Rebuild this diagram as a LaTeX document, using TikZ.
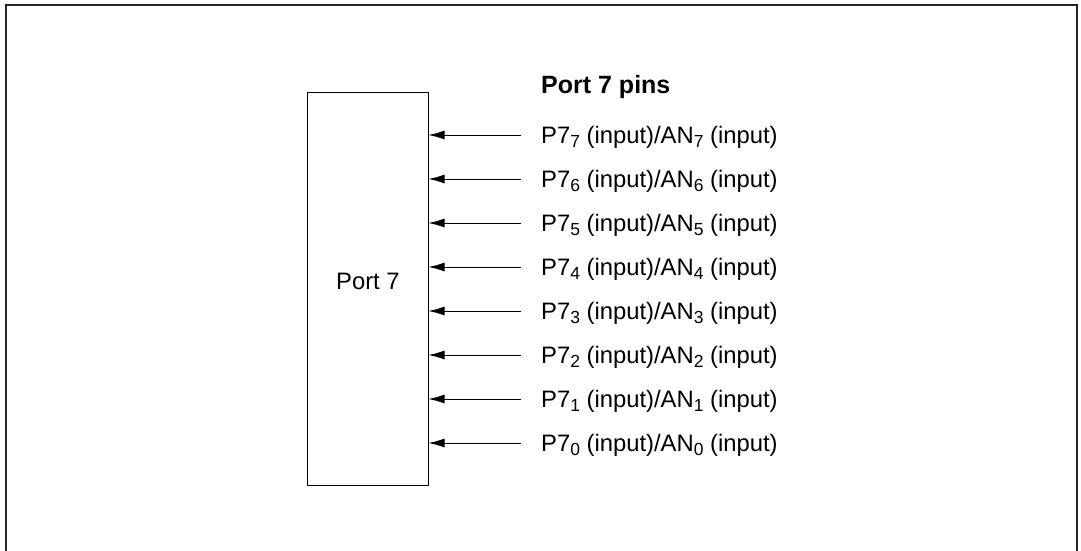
\documentclass[tikz,border=0pt]{standalone}
\usepackage{fontspec}
\setmainfont{Liberation Sans}
\usetikzlibrary{arrows.meta}
\newcommand\psub[1]{\raisebox{-4.5pt}{\fontsize{17.5}{17.5}\selectfont #1}}
\tikzset{
  frame/.style={draw=black!85, line width=2pt},
  portbox/.style={draw, line width=1pt, minimum width=121pt, minimum height=393pt, inner sep=0pt},
  pinlabel/.style={anchor=base west, inner sep=0pt, font=\fontsize{23.8}{28}\selectfont},
  pinarrow/.style={line width=1pt, -{Latex[length=16pt,width=9pt]}},
}
\begin{document}
\begin{tikzpicture}[x=1pt,y=-1pt]
\useasboundingbox (0,0) rectangle (1081,550);
\coordinate (fbl) at (6,555);
\coordinate (ftl) at (6,5);
\coordinate (ftr) at (1077,5);
\coordinate (fbr) at (1077,555);
\draw[frame] (fbl) -- (ftl) -- (ftr) -- (fbr);
\node[portbox] (port) at (367.5,288.5) {};
\node[pinlabel] (portlbl) at (336,289.5) {Port 7};
\node[pinlabel, font=\fontsize{25}{29}\selectfont\bfseries] (title) at (541,93) {Port 7 pins};
\foreach \k [count=\i from 0] in {7,6,5,4,3,2,1,0}{
  \coordinate (s\k) at (521,{135+44*\i});
  \node[pinlabel] (l\k) at (541,{143.3+44*\i}) {P7\psub{\k} (input)/AN\psub{\k} (input)};
  \draw[pinarrow] (s\k) -- (s\k -| port.east);
}
\end{tikzpicture}
\end{document}
